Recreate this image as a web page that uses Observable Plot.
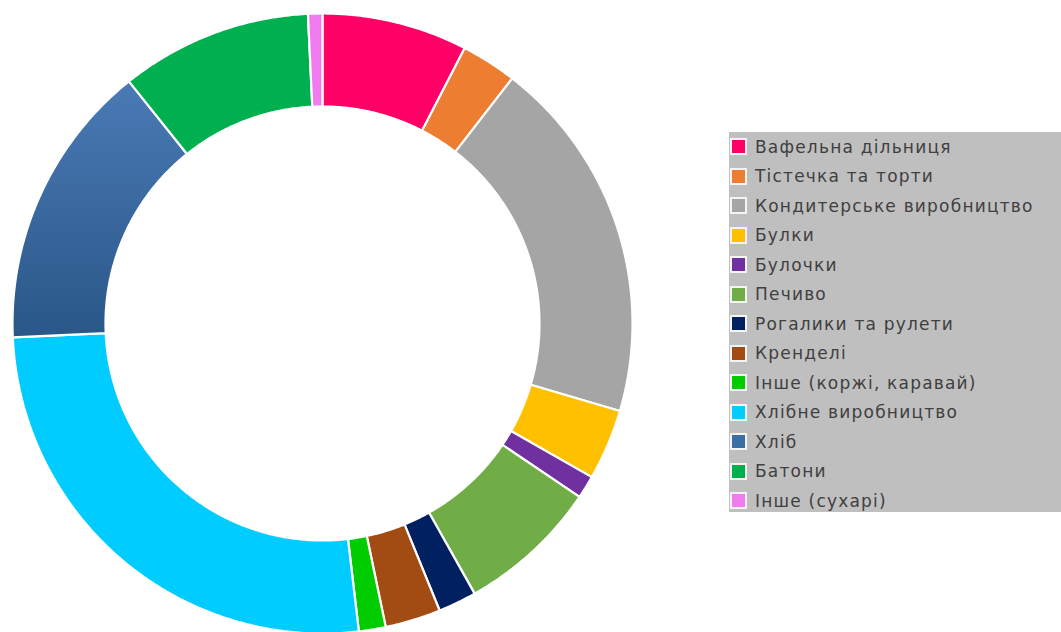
<!DOCTYPE html>
<html>
<head>
<meta charset="utf-8">
<script src="https://cdn.jsdelivr.net/npm/d3@7"></script>
<script src="https://cdn.jsdelivr.net/npm/@observablehq/plot@0.6"></script>
<style>
  html, body { margin: 0; padding: 0; background: #ffffff; }
  #wrap { position: relative; width: 1061px; height: 632px; overflow: hidden; background: #fff; }
  #chart { position: absolute; left: 0; top: 0; }
  #legend {
    position: absolute; left: 729px; top: 132px; width: 332px; height: 380px;
    background: #bfbfbf; box-sizing: border-box; padding-top: 0px;
    font-family: "DejaVu Sans", sans-serif; font-size: 17px; color: #404040;
  }
  .item { height: 29.5px; display: flex; align-items: center; white-space: nowrap; }
  .sw { width: 13px; height: 13px; border: 2px solid #f4f4f4; margin-left: 1px; margin-right: 8px; flex: none; }
  .lbl { letter-spacing: 1.2px; }
</style>
</head>
<body>
<div id="wrap">
  <div id="chart"></div>
  <div id="legend"></div>
</div>
<script>
// ---- data ----
const categories = [
  "Вафельна дільниця",
  "Тістечка та торти",
  "Кондитерське виробництво",
  "Булки",
  "Булочки",
  "Печиво",
  "Рогалики та рулети",
  "Кренделі",
  "Інше (коржі, каравай)",
  "Хлібне виробництво",
  "Хліб",
  "Батони",
  "Інше (сухарі)"
];
const shares = [7.6, 2.9, 19.1, 3.7, 1.2, 7.4, 2.0, 2.9, 1.4, 26.2, 15.0, 10.0, 0.75];
const sliceColors = [
  "#ff0066", "#ed7d31", "#a5a5a5", "#ffc000", "#7030a0", "#70ad47",
  "#002060", "#a24b12", "#00cc00", "#00ccff", "url(#breadGrad)", "#00b050", "#f07cf0"
];
const legendColors = [
  "#ff0066", "#ed7d31", "#a5a5a5", "#ffc000", "#7030a0", "#70ad47",
  "#002060", "#a24b12", "#00cc00", "#00ccff", "#3a6ea5", "#00b050", "#f07cf0"
];

// ---- geometry of slices (from d3.pie angles) ----
const innerRatio = 0.70;
const arcs = d3.pie().sort(null)(shares);
function ring(a0, a1) {
  const n = Math.max(2, Math.ceil((a1 - a0) / (Math.PI / 360)));
  const outer = d3.range(n + 1).map(i => {
    const a = a0 + (a1 - a0) * i / n;
    return [Math.sin(a), -Math.cos(a)];
  });
  const inner = outer.slice().reverse().map(([x, y]) => [x * innerRatio, y * innerRatio]);
  const pts = outer.concat(inner);
  pts.push(pts[0]);
  return pts;
}
const features = arcs.map((a, i) => ({
  type: "Feature",
  properties: {name: categories[i]},
  geometry: {type: "Polygon", coordinates: [ring(a.startAngle, a.endAngle)]}
}));

const projection = d3.geoIdentity().scale(310).translate([322, 323]);

const plot = Plot.plot({
  width: 1061,
  height: 632,
  margin: 0,
  projection,
  color: {domain: categories, range: sliceColors},
  marks: [
    Plot.geo(features, {
      fill: d => d.properties.name,
      stroke: "#ffffff",
      strokeWidth: 2.2,
      strokeLinejoin: "miter"
    })
  ]
});

// gradient for the "Хліб" slice
const svgNS = "http://www.w3.org/2000/svg";
const svgEl = plot.tagName.toLowerCase() === "svg" ? plot : plot.querySelector("svg");
const defs = document.createElementNS(svgNS, "defs");
defs.innerHTML = `<linearGradient id="breadGrad" x1="0" y1="0" x2="0" y2="1">
  <stop offset="0" stop-color="#4a7ab5"/>
  <stop offset="1" stop-color="#2a5788"/>
</linearGradient>`;
svgEl.insertBefore(defs, svgEl.firstChild);
document.getElementById("chart").appendChild(plot);

// ---- legend ----
const legend = d3.select("#legend");
categories.forEach((c, i) => {
  const row = legend.append("div").attr("class", "item");
  row.append("span").attr("class", "sw").style("background", legendColors[i]);
  row.append("span").attr("class", "lbl").text(c);
});
</script>
</body>
</html>
